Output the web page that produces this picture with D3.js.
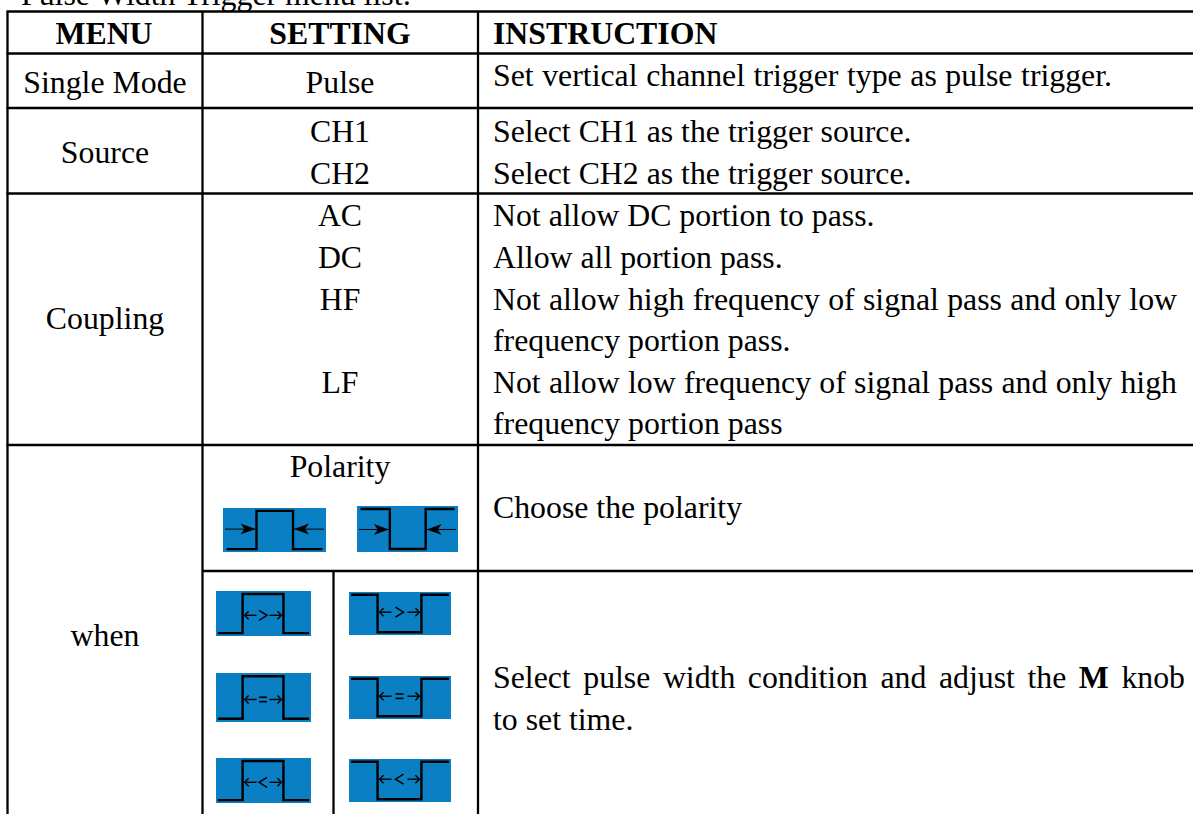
<!DOCTYPE html>
<html>
<head>
<meta charset="utf-8">
<script src="https://d3js.org/d3.v7.min.js"></script>
<style>
  html, body { margin: 0; padding: 0; background: #fff; overflow: hidden; }
  text { font-family: "Liberation Serif", serif; fill: #000; font-size: 31.8px; }
</style>
</head>
<body>
<svg id="table" width="1193" height="814"></svg>
<script>
const title = 'Pulse Width Trigger menu list:';
const headers = ['MENU', 'SETTING', 'INSTRUCTION'];
const menuLabels = ['Single Mode', 'Source', 'Coupling', 'when'];
const settingLabels = ['Pulse', 'CH1', 'CH2', 'AC', 'DC', 'HF', 'LF', 'Polarity'];
const instructions = [
  'Set vertical channel trigger type as pulse trigger.',
  'Select CH1 as the trigger source.',
  'Select CH2 as the trigger source.',
  'Not allow DC portion to pass.',
  'Allow all portion pass.',
  'Not allow high frequency of signal pass and only low',
  'frequency portion pass.',
  'Not allow low frequency of signal pass and only high',
  'frequency portion pass',
  'Choose the polarity',
  'Select pulse width condition and adjust the M knob',
  'to set time.'
];
const boldWord = 'M';

const columns = ['left', 'menu', 'setting', 'inner'];
const rowRules = ['top', 'head', 'single', 'source', 'coupling', 'polarity'];
const iconIds = ['polUp', 'polDown', 'gtUp', 'gtDown', 'eqUp', 'eqDown', 'ltUp', 'ltDown'];
const iconSigns = ['arrows', 'arrows', 'gt', 'gt', 'eq', 'eq', 'lt', 'lt'];

const width = 1193, height = 814;
const svg = d3.select('#table');

// everything gets placed through lookup scales
const colX = d3.scaleOrdinal(columns, [7.5, 202.5, 478, 333.5]);
const ruleY = d3.scaleOrdinal(rowRules, [11.5, 53.5, 108, 193.5, 445, 571]);
const headerX = d3.scaleOrdinal(headers, [104, 340, 493]);
const menuY = d3.scaleOrdinal(menuLabels, [93, 163, 329, 646]);
const settingY = d3.scaleOrdinal(settingLabels, [93, 142, 184, 226, 268, 310, 393, 477]);
const instructionY = d3.scaleOrdinal(instructions, [86, 142, 184, 226, 268, 310, 351, 393, 434, 518, 688, 730]);
const instructionRight = d3.scaleOrdinal(instructions, [1112, 0, 0, 0, 0, 1177, 0, 1177, 0, 0, 1185, 0]);

const iconLeft = d3.scaleOrdinal(iconIds, [223, 357, 216, 349, 216, 349, 216, 349]);
const iconTop = d3.scaleOrdinal(iconIds, [508, 506, 591, 592, 673, 676, 758, 759]);
const iconW = d3.scaleOrdinal(iconIds, [103, 101, 95, 102, 95, 102, 95, 102]);
const iconH = d3.scaleOrdinal(iconIds, [44, 46, 45, 43, 49, 43, 45, 43]);

// Title is cut by the top of the page, same as the scan
svg.append('text').attr('x', 21).attr('y', 5).text(title);

// Rules
const rules = svg.append('g').attr('stroke', '#000').attr('stroke-width', 2.3);
rules.selectAll('.row').data(rowRules).join('line')
  .attr('x1', d => d === 'polarity' ? colX('menu') : colX('left') - 1)
  .attr('x2', width)
  .attr('y1', d => ruleY(d)).attr('y2', d => ruleY(d));
rules.selectAll('.col').data(columns).join('line')
  .attr('x1', d => colX(d)).attr('x2', d => colX(d))
  .attr('y1', d => d === 'inner' ? ruleY('polarity') : ruleY('top'))
  .attr('y2', height);

// Header
svg.append('g').selectAll('text').data(headers).join('text')
  .attr('x', d => headerX(d)).attr('y', 44)
  .attr('text-anchor', d => d === 'INSTRUCTION' ? 'start' : 'middle')
  .style('font-weight', 'bold')
  .text(d => d);

svg.append('g').selectAll('text').data(menuLabels).join('text')
  .attr('x', 105).attr('y', d => menuY(d))
  .attr('text-anchor', 'middle').text(d => d);

svg.append('g').selectAll('text').data(settingLabels).join('text')
  .attr('x', 340).attr('y', d => settingY(d))
  .attr('text-anchor', 'middle').text(d => d);

// Instructions, some lines are justified in the original so stretch the spaces
svg.append('g').selectAll('text').data(instructions).join('text')
  .attr('x', 493).attr('y', d => instructionY(d))
  .each(function(d) {
    const t = d3.select(this);
    const parts = d.split(' ' + boldWord + ' ');
    if (parts.length === 2) {
      t.append('tspan').text(parts[0] + ' ');
      t.append('tspan').style('font-weight', 'bold').text(boldWord);
      t.append('tspan').text(' ' + parts[1]);
    } else {
      t.text(d);
    }
    const right = instructionRight(d);
    if (right) {
      const gaps = d.split(' ').length - 1;
      t.style('word-spacing', (right - 493 - this.getComputedTextLength()) / gaps + 'px');
    }
  });

// Pulse icons
const defs = svg.append('defs');
defs.append('filter').attr('id', 'soft').append('feGaussianBlur').attr('stdDeviation', 0.35);

function drawIcon(id, sign) {
  const w = iconW(id), h = iconH(id);
  const up = id.endsWith('Up');
  const g = svg.append('g').attr('transform', `translate(${iconLeft(id)},${iconTop(id)})`);
  g.append('rect').attr('width', w).attr('height', h).attr('fill', '#0a7fc4');

  const isPol = sign === 'arrows';
  // edges of the trace across the box
  const ix = d3.scaleLinear().domain([0, 1, 2, 3]).range(
    (isPol ? [0.035, 0.325, 0.68, 0.965] : [0.02, 0.28, 0.71, 0.98]).map(f => f * w));
  const iy = d3.scaleLinear().domain([0, 1]).range([h * 0.935, h * 0.065]);
  const low = up ? 0 : 1, high = 1 - low;
  const trace = [[0, low], [1, low], [1, high], [2, high], [2, low], [3, low]];

  const ink = g.append('g').attr('filter', 'url(#soft)');
  ink.append('path')
    .attr('d', d3.line().x(d => ix(d[0])).y(d => iy(d[1]))(trace))
    .attr('fill', 'none').attr('stroke', '#000').attr('stroke-width', 2.4);

  const midY = h * (isPol ? (up ? 0.48 : 0.51) : (up ? 0.54 : 0.47));

  if (isPol) {
    [[2, ix(1) - 1, 1], [w - 2, ix(2) + 1, -1]].forEach(a => {
      ink.append('line').attr('x1', a[0]).attr('x2', a[1]).attr('y1', midY).attr('y2', midY)
        .attr('stroke', '#000').attr('stroke-width', 1);
      ink.append('path')
        .attr('d', d3.line()([[a[1], midY], [a[1] - 15 * a[2], midY - 5.5], [a[1] - 11 * a[2], midY], [a[1] - 15 * a[2], midY + 5.5]]) + 'Z')
        .attr('fill', '#000');
    });
  } else {
    const l = ix(1) + 2, r = ix(2) - 2, c = (l + r) / 2;
    const stroke = el => el.attr('fill', 'none').attr('stroke', '#000').attr('stroke-width', 1.4);
    [[l, 1], [r, -1]].forEach(a => {
      stroke(ink.append('path'))
        .attr('d', d3.line()([[a[0] + 4 * a[1], midY - 4], [a[0], midY], [a[0] + 4 * a[1], midY + 4]]));
      stroke(ink.append('line'))
        .attr('x1', a[0]).attr('x2', a[0] + 12 * a[1]).attr('y1', midY).attr('y2', midY);
    });
    if (sign === 'eq') {
      [-2.2, 2.2].forEach(o => {
        ink.append('line').attr('x1', c - 4).attr('x2', c + 4).attr('y1', midY + o).attr('y2', midY + o)
          .attr('stroke', '#000').attr('stroke-width', 1.6);
      });
    } else {
      const dir = sign === 'gt' ? 1 : -1;
      stroke(ink.append('path')).attr('stroke-width', 1.5)
        .attr('d', d3.line()([[c - 4 * dir, midY - 5], [c + 4 * dir, midY], [c - 4 * dir, midY + 5]]));
    }
  }
}

iconIds.forEach((id, i) => drawIcon(id, iconSigns[i]));
</script>
</body>
</html>
